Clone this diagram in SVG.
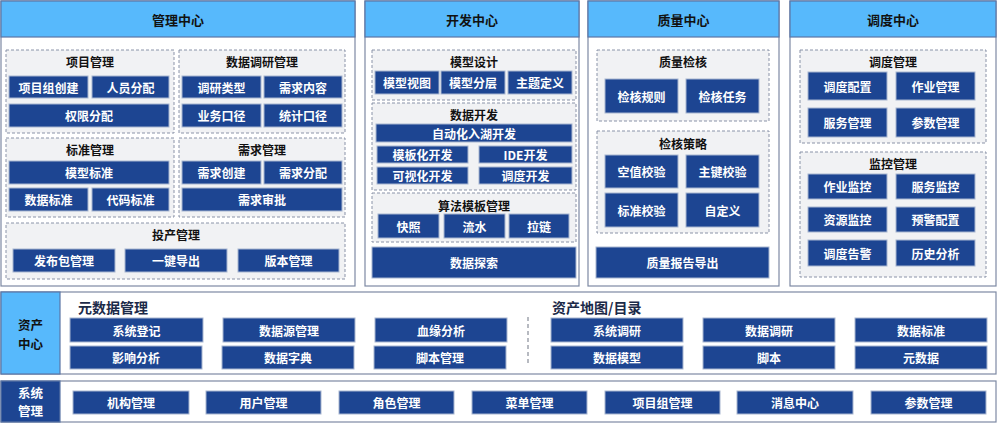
<svg xmlns="http://www.w3.org/2000/svg" width="997" height="425" viewBox="0 0 997 425">
<style>
text{font-family:"Noto Sans CJK SC","Noto Sans",sans-serif;font-weight:bold;text-anchor:middle;dominant-baseline:central}
.col{fill:#ffffff;stroke:#7d89a3;stroke-width:1.2}
.hd{fill:#57b9fc;stroke:#5a76a6;stroke-width:1.2}
.hdt{font-size:13px;fill:#111111}
.lbl{font-size:12.5px;fill:#111111}
.grp{fill:#f1f2f4;stroke:#8a93a8;stroke-width:1;stroke-dasharray:3 2}
.gt{font-size:12px;fill:#111111}
.n{fill:#1d4592;stroke:#a8b6d0;stroke-width:1}
.nt{font-size:12px;fill:#ffffff}
.st{font-size:14px;fill:#1c2a48;text-anchor:start}
</style>
<rect width="997" height="425" fill="#ffffff"/>

<!-- 管理中心 -->
<g id="mgmt">
<rect class="col" x="1" y="1" width="354" height="285"/>
<rect class="hd" x="1" y="1" width="354" height="36"/>
<text class="hdt" x="178" y="19">管理中心</text>
<g id="proj">
<rect class="grp" x="6" y="50" width="168" height="83"/>
<text class="gt" x="90" y="61">项目管理</text>
<rect class="n" x="9" y="76" width="79" height="22"/><text class="nt" x="48.5" y="87">项目组创建</text>
<rect class="n" x="92" y="76" width="77" height="22"/><text class="nt" x="130.5" y="87">人员分配</text>
<rect class="n" x="9" y="104" width="160" height="23"/><text class="nt" x="89" y="115.5">权限分配</text>
</g>
<g id="research">
<rect class="grp" x="179" y="50" width="166" height="83"/>
<text class="gt" x="262" y="61">数据调研管理</text>
<rect class="n" x="182" y="76" width="79" height="22"/><text class="nt" x="221.5" y="87">调研类型</text>
<rect class="n" x="264" y="76" width="78" height="22"/><text class="nt" x="303" y="87">需求内容</text>
<rect class="n" x="182" y="104" width="79" height="23"/><text class="nt" x="221.5" y="115.5">业务口径</text>
<rect class="n" x="264" y="104" width="78" height="23"/><text class="nt" x="303" y="115.5">统计口径</text>
</g>
<g id="std">
<rect class="grp" x="6" y="138" width="168" height="79"/>
<text class="gt" x="90" y="149">标准管理</text>
<rect class="n" x="9" y="161" width="160" height="23"/><text class="nt" x="89" y="172.5">模型标准</text>
<rect class="n" x="9" y="188" width="79" height="23"/><text class="nt" x="48.5" y="199.5">数据标准</text>
<rect class="n" x="92" y="188" width="77" height="23"/><text class="nt" x="130.5" y="199.5">代码标准</text>
</g>
<g id="req">
<rect class="grp" x="179" y="138" width="166" height="79"/>
<text class="gt" x="262" y="149">需求管理</text>
<rect class="n" x="182" y="161" width="79" height="23"/><text class="nt" x="221.5" y="172.5">需求创建</text>
<rect class="n" x="264" y="161" width="78" height="23"/><text class="nt" x="303" y="172.5">需求分配</text>
<rect class="n" x="182" y="188" width="160" height="23"/><text class="nt" x="262" y="199.5">需求审批</text>
</g>
<g id="prod">
<rect class="grp" x="6" y="223" width="339" height="56"/>
<text class="gt" x="176" y="234">投产管理</text>
<rect class="n" x="13" y="249" width="102" height="23"/><text class="nt" x="64" y="260.5">发布包管理</text>
<rect class="n" x="125" y="249" width="102" height="23"/><text class="nt" x="176" y="260.5">一键导出</text>
<rect class="n" x="238" y="249" width="101" height="23"/><text class="nt" x="288.5" y="260.5">版本管理</text>
</g>
</g>

<!-- 开发中心 -->
<g id="dev">
<rect class="col" x="365" y="1" width="214" height="285"/>
<rect class="hd" x="365" y="1" width="214" height="36"/>
<text class="hdt" x="472" y="19">开发中心</text>
<g id="modeldesign">
<rect class="grp" x="372" y="50" width="204" height="50"/>
<text class="gt" x="474" y="61">模型设计</text>
<rect class="n" x="375" y="71" width="64" height="23"/><text class="nt" x="407" y="82.5">模型视图</text>
<rect class="n" x="441" y="71" width="64" height="23"/><text class="nt" x="473" y="82.5">模型分层</text>
<rect class="n" x="508" y="71" width="64" height="23"/><text class="nt" x="540" y="82.5">主题定义</text>
</g>
<g id="datadev">
<rect class="grp" x="372" y="103" width="204" height="87"/>
<text class="gt" x="474" y="114">数据开发</text>
<rect class="n" x="376" y="124" width="196" height="18"/><text class="nt" x="474" y="133">自动化入湖开发</text>
<rect class="n" x="377" y="146" width="91" height="17"/><text class="nt" x="422.5" y="154.5">模板化开发</text>
<rect class="n" x="479" y="146" width="93" height="17"/><text class="nt" x="525.5" y="154.5">IDE开发</text>
<rect class="n" x="377" y="167" width="91" height="17"/><text class="nt" x="422.5" y="175.5">可视化开发</text>
<rect class="n" x="479" y="167" width="93" height="17"/><text class="nt" x="525.5" y="175.5">调度开发</text>
</g>
<g id="algo">
<rect class="grp" x="372" y="193" width="204" height="49"/>
<text class="gt" x="474" y="205">算法模板管理</text>
<rect class="n" x="378" y="214" width="61" height="24"/><text class="nt" x="408.5" y="226">快照</text>
<rect class="n" x="444" y="214" width="61" height="24"/><text class="nt" x="474.5" y="226">流水</text>
<rect class="n" x="509" y="214" width="60" height="24"/><text class="nt" x="539" y="226">拉链</text>
</g>
<g id="explore">
<rect class="n" x="372" y="247" width="204" height="31"/><text class="nt" x="474" y="262.5">数据探索</text>
</g>
</g>

<!-- 质量中心 -->
<g id="quality">
<rect class="col" x="588" y="1" width="191" height="285"/>
<rect class="hd" x="588" y="1" width="191" height="36"/>
<text class="hdt" x="683.5" y="19">质量中心</text>
<g id="qcheck">
<rect class="grp" x="597" y="50" width="172" height="71"/>
<text class="gt" x="683" y="61">质量检核</text>
<rect class="n" x="605" y="79" width="73" height="34"/><text class="nt" x="641.5" y="96">检核规则</text>
<rect class="n" x="686" y="79" width="73" height="34"/><text class="nt" x="722.5" y="96">检核任务</text>
</g>
<g id="qpolicy">
<rect class="grp" x="597" y="131" width="172" height="102"/>
<text class="gt" x="683" y="143">检核策略</text>
<rect class="n" x="605" y="155" width="73" height="33"/><text class="nt" x="641.5" y="171.5">空值校验</text>
<rect class="n" x="686" y="155" width="73" height="33"/><text class="nt" x="722.5" y="171.5">主键校验</text>
<rect class="n" x="605" y="193" width="73" height="34"/><text class="nt" x="641.5" y="210">标准校验</text>
<rect class="n" x="686" y="193" width="73" height="34"/><text class="nt" x="722.5" y="210">自定义</text>
</g>
<g id="qreport">
<rect class="n" x="596" y="247" width="173" height="31"/><text class="nt" x="682.5" y="262.5">质量报告导出</text>
</g>
</g>

<!-- 调度中心 -->
<g id="sched">
<rect class="col" x="790" y="1" width="206" height="285"/>
<rect class="hd" x="790" y="1" width="206" height="36"/>
<text class="hdt" x="893" y="19">调度中心</text>
<g id="schedmgmt">
<rect class="grp" x="800" y="50" width="186" height="93"/>
<text class="gt" x="893" y="61">调度管理</text>
<rect class="n" x="808" y="72" width="79" height="28"/><text class="nt" x="847.5" y="86">调度配置</text>
<rect class="n" x="896" y="72" width="79" height="28"/><text class="nt" x="935.5" y="86">作业管理</text>
<rect class="n" x="808" y="108" width="79" height="29"/><text class="nt" x="847.5" y="122.5">服务管理</text>
<rect class="n" x="896" y="108" width="79" height="29"/><text class="nt" x="935.5" y="122.5">参数管理</text>
</g>
<g id="monitor">
<rect class="grp" x="800" y="152" width="186" height="125"/>
<text class="gt" x="893" y="163">监控管理</text>
<rect class="n" x="808" y="174" width="79" height="25"/><text class="nt" x="847.5" y="186.5">作业监控</text>
<rect class="n" x="896" y="174" width="79" height="25"/><text class="nt" x="935.5" y="186.5">服务监控</text>
<rect class="n" x="808" y="207" width="79" height="25"/><text class="nt" x="847.5" y="219.5">资源监控</text>
<rect class="n" x="896" y="207" width="79" height="25"/><text class="nt" x="935.5" y="219.5">预警配置</text>
<rect class="n" x="808" y="240" width="79" height="26"/><text class="nt" x="847.5" y="253">调度告警</text>
<rect class="n" x="896" y="240" width="79" height="26"/><text class="nt" x="935.5" y="253">历史分析</text>
</g>
</g>

<!-- 资产中心 -->
<g id="asset">
<rect class="col" x="1" y="292" width="995" height="82"/>
<rect class="hd" x="1" y="292" width="59" height="82"/>
<text class="lbl" x="30.5" y="324">资产</text>
<text class="lbl" x="30.5" y="343">中心</text>
<g id="metadata">
<text class="st" x="78" y="307">元数据管理</text>
<rect class="n" x="70" y="318" width="133" height="24"/><text class="nt" x="136.5" y="330">系统登记</text>
<rect class="n" x="223" y="318" width="132" height="24"/><text class="nt" x="289" y="330">数据源管理</text>
<rect class="n" x="375" y="318" width="132" height="24"/><text class="nt" x="441" y="330">血缘分析</text>
<rect class="n" x="70" y="346" width="132" height="23"/><text class="nt" x="136" y="357.5">影响分析</text>
<rect class="n" x="222" y="346" width="132" height="23"/><text class="nt" x="288" y="357.5">数据字典</text>
<rect class="n" x="374" y="346" width="132" height="23"/><text class="nt" x="440" y="357.5">脚本管理</text>
</g>
<g id="assetmap">
<text class="st" x="552" y="307">资产地图/目录</text>
<rect class="n" x="551" y="318" width="132" height="24"/><text class="nt" x="617" y="330">系统调研</text>
<rect class="n" x="703" y="318" width="132" height="24"/><text class="nt" x="769" y="330">数据调研</text>
<rect class="n" x="855" y="318" width="132" height="24"/><text class="nt" x="921" y="330">数据标准</text>
<rect class="n" x="551" y="346" width="132" height="23"/><text class="nt" x="617" y="357.5">数据模型</text>
<rect class="n" x="703" y="346" width="132" height="23"/><text class="nt" x="769" y="357.5">脚本</text>
<rect class="n" x="855" y="346" width="132" height="23"/><text class="nt" x="921" y="357.5">元数据</text>
</g>
</g>

<!-- 系统管理 -->
<g id="system">
<rect class="col" x="1" y="381" width="995" height="41"/>
<rect x="1" y="381" width="59" height="41" fill="#1d4592" stroke="#5a76a6" stroke-width="1.2"/>
<text class="lbl" x="30.5" y="392.5" style="fill:#ffffff">系统</text>
<text class="lbl" x="30.5" y="410.5" style="fill:#ffffff">管理</text>
<rect class="n" x="73" y="391" width="116" height="23"/><text class="nt" x="131" y="402.5">机构管理</text>
<rect class="n" x="206" y="391" width="115" height="23"/><text class="nt" x="263.5" y="402.5">用户管理</text>
<rect class="n" x="339" y="391" width="115" height="23"/><text class="nt" x="396.5" y="402.5">角色管理</text>
<rect class="n" x="472" y="391" width="115" height="23"/><text class="nt" x="529.5" y="402.5">菜单管理</text>
<rect class="n" x="605" y="391" width="115" height="23"/><text class="nt" x="662.5" y="402.5">项目组管理</text>
<rect class="n" x="737" y="391" width="116" height="23"/><text class="nt" x="795" y="402.5">消息中心</text>
<rect class="n" x="871" y="391" width="115" height="23"/><text class="nt" x="928.5" y="402.5">参数管理</text>
</g>

<g id="connectors">
<line x1="528" y1="317" x2="528" y2="366" stroke="#a0a4ad" stroke-width="1.5" stroke-dasharray="4 3"/>
</g>
</svg>
